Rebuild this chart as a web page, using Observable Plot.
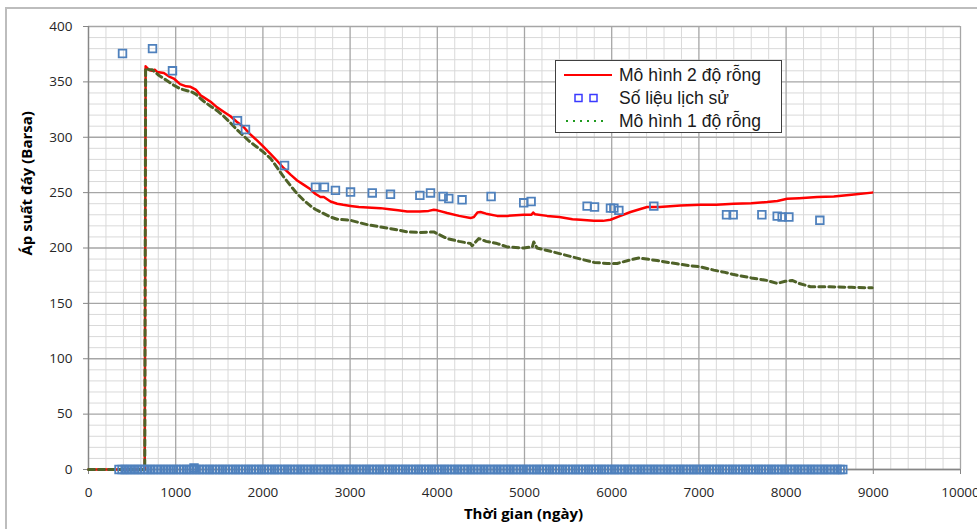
<!DOCTYPE html>
<html><head><meta charset="utf-8">
<script src="https://cdn.jsdelivr.net/npm/d3@7"></script>
<script src="https://cdn.jsdelivr.net/npm/@observablehq/plot@0.6"></script>
<style>
body{margin:0;background:#fff;}
#wrap{position:relative;width:977px;height:529px;overflow:hidden;font-family:"Open Sans",sans-serif;}
#border{position:absolute;left:5px;top:7px;width:1000px;height:600px;border-left:2px solid #bdbdbd;border-top:2px solid #bdbdbd;}
#chart{position:absolute;left:0;top:0;}
#legend{position:absolute;left:555px;top:60px;width:227px;height:73px;background:#fff;border:1px solid #404040;box-sizing:border-box;}
#legend .row{position:absolute;left:0;height:22px;width:100%;}
#legend svg{position:absolute;left:0;top:0;}
#legend span{position:absolute;left:63px;top:0px;font-family:"Liberation Sans",Arial,sans-serif;font-size:17.5px;color:#1a1a1a;line-height:22px;white-space:nowrap;}
</style></head>
<body>
<div id="wrap">
  <div id="border"></div>
  <div id="chart"></div>
  <div id="legend"></div>
</div>
<script>
// ---- data ----
const seriesNames = ["Mô hình 2 độ rỗng", "Số liệu lịch sử", "Mô hình 1 độ rỗng"];
const xTitle = "Thời gian (ngày)";
const yTitle = "Áp suất đáy (Barsa)";

const xMajorTicks = [0,1000,2000,3000,4000,5000,6000,7000,8000,9000,10000];
const xMinorTicks = [200,400,600,800,1200,1400,1600,1800,2200,2400,2600,2800,3200,3400,3600,3800,4200,4400,4600,4800,5200,5400,5600,5800,6200,6400,6600,6800,7200,7400,7600,7800,8200,8400,8600,8800,9200,9400,9600,9800];
const yMajorTicks = [0,50,100,150,200,250,300,350,400];
const yMinorTicks = [10,20,30,40,60,70,80,90,110,120,130,140,160,170,180,190,210,220,230,240,260,270,280,290,310,320,330,340,360,370,380,390];

// Mô hình 2 độ rỗng (red)
const model2Days = [0,645,655,690,730,760,787,864,920,978,1050,1120,1170,1230,1284,1322,1400,1475,1550,1628,1700,1781,1850,1935,2000,2087,2160,2240,2320,2393,2470,2546,2600,2660,2699,2775,2852,2920,3005,3100,3200,3349,3450,3550,3654,3800,3900,3960,4000,4113,4250,4381,4420,4460,4495,4560,4686,4800,4991,5080,5100,5120,5259,5400,5550,5642,5795,5900,5986,6100,6216,6320,6407,6550,6789,7018,7200,7400,7600,7783,7900,8012,8150,8356,8547,8750,8987];
const model2Pressure = [0,0,364,361,360,361,359,358,355,353,348,346,345.5,343,338,336,332,327,323,319,314,309,303,297,292,285,279,272,266,261,257,253,249,246,246,242,240,239,238,237,236.5,236,235,234,233,233,233.5,234.5,234,231.6,229,227,228,232,232.5,231,229,229,230,230,232,230.5,229,228,226,225.5,224.5,224.5,225.5,229,232.5,235,237,237,238.4,239,239,240,240.5,241.5,242.5,244.5,245,246,246.5,248,250];

// Mô hình 1 độ rỗng (green dashed)
const model1Days = [0,645,655,700,730,760,806,902,978,1055,1189,1230,1284,1330,1400,1475,1550,1628,1700,1781,1850,1935,2000,2087,2160,2240,2320,2393,2470,2546,2600,2699,2775,2852,3005,3100,3200,3349,3500,3654,3800,3960,4050,4113,4250,4381,4400,4476,4560,4686,4800,4991,5090,5106,5144,5300,5450,5642,5800,5948,6063,6200,6311,6400,6521,6650,6751,6900,7018,7171,7300,7400,7600,7783,7898,7990,8069,8150,8280,8500,8750,8987];
const model1Pressure = [0,0,362,361,361,359,356,351,347,343.7,340.7,339,335,332,328,324,319,313,307,301,296,291,287,281,273,264,256,249,243,238,235,231,228,226,225,223,221,219,217,214.5,214,214.5,211,208.5,206,204,202,208.5,206,204,201,200,201,205.5,200,197,194,190,187,186,186,189,191,190,188.7,187,185.7,184,183,180,178,176,173,170.7,168,170,170.7,168,165,165,164.5,164];

// Số liệu lịch sử (history, squares)
const historyDays = [390,734,963,1709,1800,2248,2603,2706,2832,3005,3254,3463,3800,3922,4067,4132,4284,4617,4991,5076,5718,5803,5986,6025,6082,6483,7317,7393,7722,7898,7955,8032,8387,1210];
const historyPressure = [375.6,380,360,315,307,274.5,255,255,252,250.5,249.7,248.5,247.5,249.7,246.5,244.7,243.5,246.5,240.8,242,237.8,237,236,236,234,237.8,230,230,230,228.8,228,228,225,1.5];
// history records logged at zero pressure (band along the time axis)
const historyZeroDays = [350,385,420,455,490,530,565,600,640,680,715,750,790,830,865,900,940,975,1010,1050,1090,1125,1160,1200,1235,1270,1310,1350,1385,1420,1460,1500,1535,1570,1610,1650,1685,1720,1760,1800,1835,1870,1910,1950,1985,2020,2060,2100,2135,2170,2210,2250,2285,2320,2360,2400,2435,2470,2510,2550,2585,2620,2660,2700,2735,2770,2810,2850,2885,2920,2960,3000,3035,3070,3110,3150,3185,3220,3260,3300,3335,3370,3410,3450,3485,3520,3560,3600,3635,3670,3710,3750,3785,3820,3860,3900,3935,3970,4010,4050,4085,4120,4160,4200,4235,4270,4310,4350,4385,4420,4460,4500,4535,4570,4610,4650,4685,4720,4760,4800,4835,4870,4910,4950,4985,5020,5060,5100,5135,5170,5210,5250,5285,5320,5360,5400,5435,5470,5510,5550,5585,5620,5660,5700,5735,5770,5810,5850,5885,5920,5960,6000,6035,6070,6110,6150,6185,6220,6260,6300,6335,6370,6410,6450,6485,6520,6560,6600,6635,6670,6710,6750,6785,6820,6860,6900,6935,6970,7010,7050,7085,7120,7160,7200,7235,7270,7310,7350,7385,7420,7460,7500,7535,7570,7610,7650,7685,7720,7760,7800,7835,7870,7910,7950,7985,8020,8060,8100,8135,8170,8210,8250,8285,8320,8360,8400,8435,8470,8510,8550,8585,8620,8650];
const historyZeroPressure = historyZeroDays.map(() => 0);

// ---- tables ----
const model2 = model2Days.map((d,i)=>({day:d, p:model2Pressure[i]}));
const model1 = model1Days.map((d,i)=>({day:d, p:model1Pressure[i]}));
const history = historyDays.map((d,i)=>({day:d, p:historyPressure[i]}))
  .concat(historyZeroDays.map((d,i)=>({day:d, p:historyZeroPressure[i]})));

const colors = {model2:"#ff0000", history:"#4f81bd", model1:"#4f6228"};
const font = "'Open Sans', sans-serif";

const chart = Plot.plot({
  width: 977, height: 529,
  marginLeft: 88, marginRight: 17, marginTop: 26, marginBottom: 60,
  style: {fontFamily: font, background: "transparent", overflow: "visible"},
  x: {domain: [0, 10000], axis: null},
  y: {domain: [0, 400], axis: null},
  marks: [
    Plot.gridX(xMinorTicks, {stroke: "#d9d9d9", strokeOpacity: 1}),
    Plot.gridY(yMinorTicks, {stroke: "#d9d9d9", strokeOpacity: 1}),
    Plot.gridX(xMajorTicks, {stroke: "#a6a6a6", strokeOpacity: 1, strokeWidth: 1.3}),
    Plot.gridY(yMajorTicks, {stroke: "#a6a6a6", strokeOpacity: 1, strokeWidth: 1.3}),
    Plot.ruleX([0], {stroke: "#868686", strokeWidth: 1.3}),
    Plot.ruleY([0], {stroke: "#868686", strokeWidth: 1.3}),
    Plot.axisX(xMajorTicks, {tickSize: 5, tickPadding: 13, fontSize: 13.5, stroke: "#868686", fill: "#262626", tickFormat: d => String(d), label: null}),
    Plot.axisY(yMajorTicks, {tickSize: 5, tickPadding: 11, fontSize: 13.5, stroke: "#868686", fill: "#262626", tickFormat: d => String(d), label: null}),
    Plot.line(model2, {x: "day", y: "p", stroke: colors.model2, strokeWidth: 2.5}),
    Plot.line(model1, {x: "day", y: "p", stroke: colors.model1, strokeWidth: 3, strokeDasharray: "6,4"}),
    Plot.dot(history, {x: "day", y: "p", symbol: "square", r: 4.3, stroke: colors.history, strokeWidth: 1.8, fill: "none"}),
    Plot.text([xTitle], {frameAnchor: "bottom", dy: 49, dx: -1, fontSize: 15, fontWeight: "bold", fill: "#000"}),
    Plot.text([yTitle], {frameAnchor: "left", dx: -61, dy: 7.5, rotate: -90, fontSize: 15, fontWeight: "bold", fill: "#000"})
  ]
});
document.getElementById("chart").appendChild(chart);

// ---- legend ----
const legend = document.getElementById("legend");
const rowTops = [3, 26, 49];
const swatches = [
  `<svg width="60" height="22"><line x1="8" x2="56" y1="11" y2="11" stroke="#ff0000" stroke-width="2.2"/></svg>`,
  `<svg width="60" height="22"><rect x="19" y="7.5" width="7" height="7" fill="none" stroke="#3a3aff" stroke-width="1.5"/><rect x="34" y="7.5" width="7" height="7" fill="none" stroke="#3a3aff" stroke-width="1.5"/></svg>`,
  `<svg width="60" height="22"><line x1="10" x2="52" y1="11" y2="11" stroke="#1f9a1f" stroke-width="2" stroke-dasharray="2,5"/></svg>`
];
seriesNames.forEach((name, i) => {
  const row = document.createElement("div");
  row.className = "row";
  row.style.top = rowTops[i] + "px";
  row.innerHTML = swatches[i] + `<span>${name}</span>`;
  legend.appendChild(row);
});
</script>
</body></html>
